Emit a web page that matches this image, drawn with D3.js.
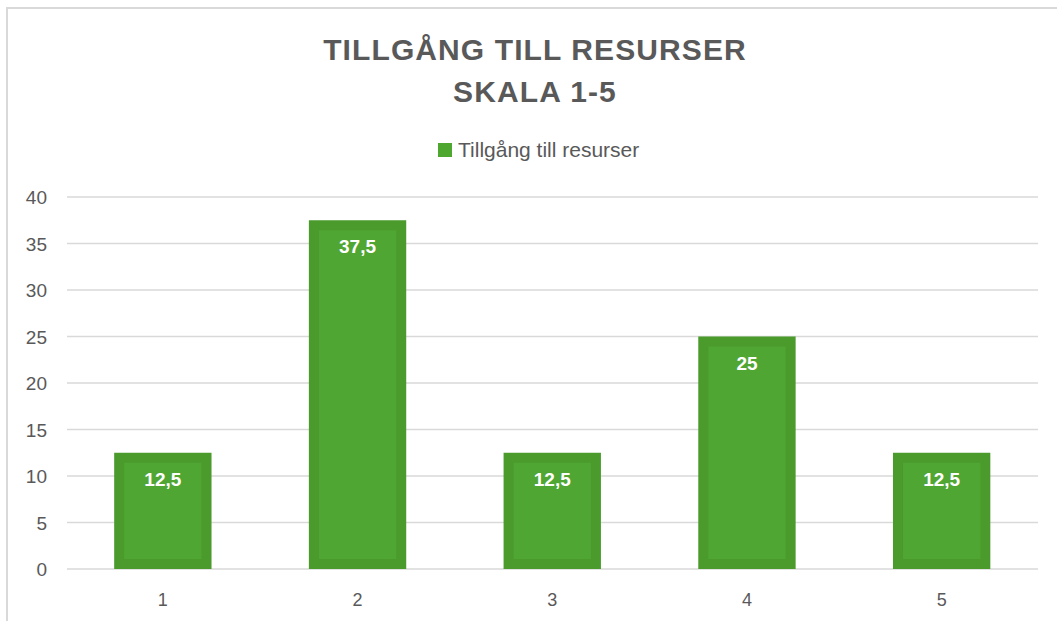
<!DOCTYPE html>
<html>
<head>
<meta charset="utf-8">
<script src="https://cdn.jsdelivr.net/npm/d3@7"></script>
<style>
  body { margin: 0; background: #fff; }
  svg text { font-family: "Liberation Sans", Arial, sans-serif; }
</style>
</head>
<body>
<svg id="chart" width="1057" height="621"></svg>
<script>
const categories = ['1', '2', '3', '4', '5'];
const values = [12.5, 37.5, 12.5, 25, 12.5];
const yTicks = [0, 5, 10, 15, 20, 25, 30, 35, 40];
const seriesName = 'Tillgång till resurser';
const titleLines = ['TILLGÅNG TILL RESURSER', 'SKALA 1-5'];

const svg = d3.select('#chart');
const W = 1057, H = 621;
const margin = {left: 65.5, right: 18, top: 197, bottom: 52};

// chart frame (only left and top edges visible)
svg.append('path')
    .attr('d', `M7,${H} L7,8 L${W},8`)
    .attr('fill', 'none')
    .attr('stroke', '#d9d9d9')
    .attr('stroke-width', 2);

const x = d3.scaleBand()
    .domain(categories)
    .range([margin.left, W - margin.right])
    .paddingInner(0.5)
    .paddingOuter(0.25);

const y = d3.scaleLinear()
    .domain([0, 40])
    .range([H - margin.bottom, margin.top]);

// gridlines
svg.append('g')
    .selectAll('line')
    .data(yTicks)
    .enter()
    .append('line')
    .attr('x1', 67)
    .attr('x2', 1038)
    .attr('y1', d => y(d))
    .attr('y2', d => y(d))
    .attr('stroke', '#d9d9d9')
    .attr('stroke-width', 1.5);

// y axis labels
svg.append('g')
    .selectAll('text')
    .data(yTicks)
    .enter()
    .append('text')
    .attr('x', 47)
    .attr('y', d => y(d) + 7)
    .attr('text-anchor', 'end')
    .attr('font-size', 19)
    .attr('fill', '#595959')
    .text(d => d);

// x axis labels
svg.append('g')
    .selectAll('text')
    .data(categories)
    .enter()
    .append('text')
    .attr('x', d => x(d) + x.bandwidth() / 2)
    .attr('y', 606)
    .attr('text-anchor', 'middle')
    .attr('font-size', 18)
    .attr('fill', '#595959')
    .text(d => d);

const bars = svg.append('g')
    .selectAll('g')
    .data(categories.map((c, i) => ({cat: c, val: values[i]})))
    .enter()
    .append('g');

// outer (darker edge)
bars.append('rect')
    .attr('x', d => x(d.cat))
    .attr('y', d => y(d.val))
    .attr('width', x.bandwidth())
    .attr('height', d => y(0) - y(d.val))
    .attr('fill', '#4a9a2c');

// inner (lighter fill)
const inset = 10;
bars.append('rect')
    .attr('x', d => x(d.cat) + inset)
    .attr('y', d => y(d.val) + inset)
    .attr('width', x.bandwidth() - 2 * inset)
    .attr('height', d => Math.max(0, y(0) - y(d.val) - 2 * inset))
    .attr('fill', '#50a632');

bars.append('text')
    .attr('x', d => x(d.cat) + x.bandwidth() / 2)
    .attr('y', d => y(d.val) + 33)
    .attr('text-anchor', 'middle')
    .attr('font-size', 19)
    .attr('font-weight', 'bold')
    .attr('fill', '#ffffff')
    .text(d => String(d.val).replace('.', ','));

// title
svg.append('g')
    .selectAll('text')
    .data(titleLines)
    .enter()
    .append('text')
    .attr('x', 535)
    .attr('y', (d, i) => 60 + i * 42)
    .attr('text-anchor', 'middle')
    .attr('font-size', 30)
    .attr('font-weight', 'bold')
    .attr('letter-spacing', 1.1)
    .attr('fill', '#595959')
    .text(d => d);

// legend
const legend = svg.append('g');
legend.append('rect')
    .attr('x', 438)
    .attr('y', 143)
    .attr('width', 14)
    .attr('height', 14)
    .attr('fill', '#4ea72e');
legend.append('text')
    .attr('x', 458)
    .attr('y', 157)
    .attr('font-size', 21)
    .attr('fill', '#595959')
    .text(seriesName);
</script>
</body>
</html>
